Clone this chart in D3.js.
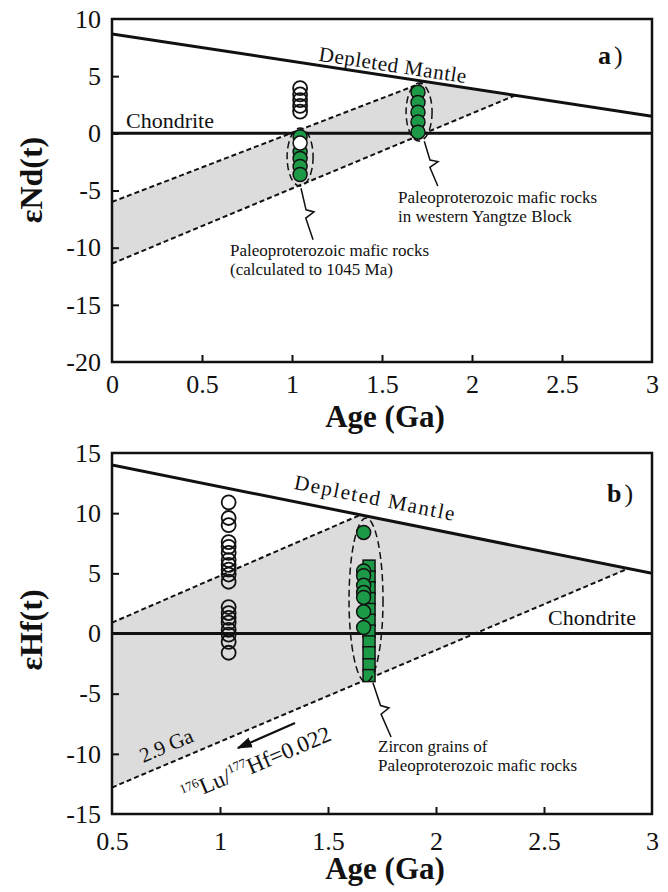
<!DOCTYPE html>
<html>
<head>
<meta charset="utf-8">
<script src="https://cdn.jsdelivr.net/npm/d3@7"></script>
<style>
    body { margin: 0; background: #fff; }
    svg text { font-family: "Liberation Serif", "Times New Roman", serif; fill: #111; }
</style>
</head>
<body>
<div id="chart"></div>
<script>
// ---- panel a: Nd ----
const ndTicksX = [0, 0.5, 1, 1.5, 2, 2.5, 3];
const ndTicksY = [10, 5, 0, -5, -10, -15, -20];
const ndDepletedMantle = [[0, 8.7], [3, 1.5]];
const ndBandUpper = [[0, -6.0], [1.74, 4.52]];
const ndBandLower = [[0, -11.4], [2.24, 3.32]];
const ndOpenAge = 1.045;
const ndOpen = [3.95, 3.4, 2.9, 2.4, 1.9];
const ndGreen1045 = [-0.3, -1.6, -2.2, -2.9, -3.6];
const ndWhite1045 = [-0.85];
const ndGreenAge = 1.7;
const ndGreen1700 = [3.6, 2.7, 1.85, 1.0, 0.1];

// ---- panel b: Hf ----
const hfTicksX = [0.5, 1, 1.5, 2, 2.5, 3];
const hfTicksY = [15, 10, 5, 0, -5, -10, -15];
const hfDepletedMantle = [[0.5, 14.0], [3, 5.0]];
const hfBandUpper = [[0.5, 0.9], [1.65, 9.86]];
const hfBandLower = [[0.5, -12.8], [2.89, 5.4]];
const hfOpenAge = 1.04;
const hfOpen = [10.9, 9.6, 9.0, 7.6, 7.2, 6.7, 6.1, 5.7, 5.3, 4.9, 4.3, 2.2, 1.7, 1.3, 0.9, 0.3, -0.1, -0.7, -1.6];
const hfCircleAge = 1.665;
const hfZirconCircles = [8.4, 5.2, 4.8, 4.0, 3.4, 3.0, 1.8, 0.5];
const hfSquareAge = 1.69;
const hfZirconSquares = [5.6, 4.7, 3.8, 2.9, 2.0, 1.1, 0.2, -0.7, -1.6, -2.6, -3.5];

const GREEN = "#1c9a48";
const GREY = "#dcdcdc";

const svg = d3.select("#chart").append("svg")
    .attr("width", 668)
    .attr("height", 892);

// lightning-style leader from an ellipse to its note
function squiggle(p0, p1) {
    const lerp = t => [p0[0] + (p1[0] - p0[0]) * t, p0[1] + (p1[1] - p0[1]) * t];
    const a = lerp(0.42), b = lerp(0.5), c = lerp(0.56);
    return d3.line()([p0, a, [b[0] + 7, b[1] - 2], [c[0] - 2, c[1] + 1], p1]);
}

function drawPanel(cfg) {
    const x = d3.scaleLinear().domain(cfg.xDomain).range([112, 652]);
    const y = d3.scaleLinear().domain(cfg.yDomain).range([cfg.bottom, cfg.top]);
    const g = svg.append("g");

    g.append("clipPath").attr("id", cfg.id + "-clip")
        .append("rect")
        .attr("x", 112).attr("y", cfg.top)
        .attr("width", 540).attr("height", cfg.bottom - cfg.top);
    const plot = g.append("g").attr("clip-path", "url(#" + cfg.id + "-clip)");

    // evolution band
    const band = [cfg.upper[0], cfg.upper[1], cfg.lower[1], cfg.lower[0]];
    plot.append("path")
        .attr("d", d3.line().x(d => x(d[0])).y(d => y(d[1]))(band) + "Z")
        .attr("fill", GREY);
    [cfg.upper, cfg.lower].forEach(l => {
        plot.append("line")
            .attr("x1", x(l[0][0])).attr("y1", y(l[0][1]))
            .attr("x2", x(l[1][0])).attr("y2", y(l[1][1]))
            .attr("stroke", "#111").attr("stroke-width", 2)
            .attr("stroke-dasharray", "5,3");
    });

    // chondrite + depleted mantle
    plot.append("line")
        .attr("x1", x(cfg.xDomain[0])).attr("x2", x(cfg.xDomain[1]))
        .attr("y1", y(0)).attr("y2", y(0))
        .attr("stroke", "#111").attr("stroke-width", 3);
    plot.append("line")
        .attr("x1", x(cfg.dm[0][0])).attr("y1", y(cfg.dm[0][1]))
        .attr("x2", x(cfg.dm[1][0])).attr("y2", y(cfg.dm[1][1]))
        .attr("stroke", "#111").attr("stroke-width", 3);

    // samples
    cfg.markers.forEach(m => {
        if (m.shape === "square") {
            plot.selectAll(null).data(m.values).enter().append("rect")
                .attr("x", x(m.age) - 6).attr("y", d => y(d) - 6)
                .attr("width", 12).attr("height", 12)
                .attr("fill", m.fill).attr("stroke", "#111").attr("stroke-width", 1.5);
        } else {
            plot.selectAll(null).data(m.values).enter().append("circle")
                .attr("cx", x(m.age)).attr("cy", d => y(d)).attr("r", 7)
                .attr("fill", m.fill).attr("stroke", "#111")
                .attr("stroke-width", m.fill === "none" ? 1.8 : 1.5);
        }
    });

    // dashed ellipses and leaders
    cfg.notes.forEach(n => {
        g.append("ellipse")
            .attr("cx", x(n.cx)).attr("cy", y(n.cy))
            .attr("rx", n.rx).attr("ry", n.ry)
            .attr("fill", "none").attr("stroke", "#111")
            .attr("stroke-width", 1.5).attr("stroke-dasharray", "7,4");
        g.append("path")
            .attr("d", squiggle([x(n.from[0]), y(n.from[1])], [x(n.to[0]), y(n.to[1])]))
            .attr("fill", "none").attr("stroke", "#111").attr("stroke-width", 1.5);
        const t = g.append("text").attr("font-size", 17);
        n.text.forEach((s, i) => {
            t.append("tspan").attr("x", n.tx).attr("y", n.ty + i * 18.5).text(s);
        });
    });

    // frame
    g.append("rect")
        .attr("x", 112).attr("y", cfg.top)
        .attr("width", 540).attr("height", cfg.bottom - cfg.top)
        .attr("fill", "none").attr("stroke", "#111").attr("stroke-width", 2.5);

    // axes (ticks pointing inward)
    const yAxis = d3.axisLeft(y).tickValues(cfg.yTicks).tickSize(-7).tickPadding(11)
        .tickFormat(d => String(d));
    const xAxis = d3.axisBottom(x).tickValues(cfg.xTicks).tickSize(-7).tickPadding(0)
        .tickFormat(d => String(d));
    const ya = g.append("g").attr("transform", "translate(112,0)").call(yAxis);
    const xa = g.append("g").attr("transform", "translate(0," + cfg.bottom + ")").call(xAxis);
    [ya, xa].forEach(a => {
        a.select(".domain").remove();
        a.selectAll(".tick line").attr("stroke", "#111").attr("stroke-width", 2);
        a.selectAll(".tick text").attr("font-size", 26).attr("fill", "#111")
            .attr("font-family", "Liberation Serif");
    });
    xa.selectAll(".tick text").attr("dy", null).attr("y", cfg.xLabelOffset);
    // end ticks sit on the frame corners
    ya.selectAll(".tick line").filter(d => d === cfg.yDomain[0] || d === cfg.yDomain[1]).remove();
    xa.selectAll(".tick line").filter(d => d === cfg.xDomain[0] || d === cfg.xDomain[1]).remove();

    // axis titles
    g.append("text")
        .attr("x", 385).attr("y", cfg.bottom + 65)
        .attr("text-anchor", "middle")
        .attr("font-size", 31).attr("font-weight", "bold")
        .text("Age (Ga)");
    g.append("text")
        .attr("transform", "translate(42," + cfg.yTitleY + ") rotate(-90)")
        .attr("text-anchor", "middle")
        .attr("font-size", 32).attr("font-weight", "bold")
        .text(cfg.yTitle);

    // line labels
    const dmMid = cfg.dmLabel;
    const ang = Math.atan2(y(cfg.dm[1][1]) - y(cfg.dm[0][1]), x(cfg.dm[1][0]) - x(cfg.dm[0][0])) * 180 / Math.PI;
    g.append("text")
        .attr("transform", "translate(" + dmMid[0] + "," + dmMid[1] + ") rotate(" + ang + ")")
        .attr("text-anchor", "middle")
        .attr("font-size", 21).attr("letter-spacing", cfg.dmSpacing)
        .text("Depleted Mantle");
    g.append("text")
        .attr("x", cfg.chondrite[0]).attr("y", cfg.chondrite[1])
        .attr("font-size", 22)
        .text("Chondrite");

    // panel letter
    const pl = g.append("text").attr("x", cfg.letterPos[0]).attr("y", cfg.letterPos[1]).attr("font-size", 26);
    pl.append("tspan").attr("font-weight", "bold").text(cfg.letter);
    pl.append("tspan").attr("dx", 3).text(")");

    return {x: x, y: y, g: g};
}

drawPanel({
    id: "nd", top: 19, bottom: 362,
    xDomain: [0, 3], yDomain: [-20, 10],
    xTicks: ndTicksX, yTicks: ndTicksY, xLabelOffset: 31,
    dm: ndDepletedMantle, upper: ndBandUpper, lower: ndBandLower,
    markers: [
        {age: ndOpenAge, values: ndOpen, fill: "none"},
        {age: ndOpenAge, values: ndGreen1045, fill: GREEN},
        {age: ndOpenAge, values: ndWhite1045, fill: "#fff"},
        {age: ndGreenAge, values: ndGreen1700, fill: GREEN}
    ],
    notes: [
        {cx: 1.045, cy: -2.07, rx: 13, ry: 29, from: [1.05, -4.8], to: [1.117, -9.3],
            tx: 230, ty: 256, text: ["Paleoproterozoic mafic rocks", "(calculated to 1045 Ma)"]},
        {cx: 1.706, cy: 1.86, rx: 13, ry: 29, from: [1.735, -0.7], to: [1.81, -4.6],
            tx: 398, ty: 203, text: ["Paleoproterozoic mafic rocks", "in western Yangtze Block"]}
    ],
    yTitle: "εNd(t)", yTitleY: 180,
    dmLabel: [392, 72], dmSpacing: 0.6,
    chondrite: [126, 128],
    letter: "a", letterPos: [598, 64]
});

const pb = drawPanel({
    id: "hf", top: 453, bottom: 814,
    xDomain: [0.5, 3], yDomain: [-15, 15],
    xTicks: hfTicksX, yTicks: hfTicksY, xLabelOffset: 36,
    dm: hfDepletedMantle, upper: hfBandUpper, lower: hfBandLower,
    markers: [
        {age: hfOpenAge, values: hfOpen, fill: "none"},
        {age: hfSquareAge, values: hfZirconSquares, fill: GREEN, shape: "square"},
        {age: hfCircleAge, values: hfZirconCircles, fill: GREEN}
    ],
    notes: [
        {cx: 1.676, cy: 2.78, rx: 17, ry: 82, from: [1.708, -4.1], to: [1.792, -8.6],
            tx: 378, ty: 752, text: ["Zircon grains of", "Paleoproterozoic mafic rocks"]}
    ],
    yTitle: "εHf(t)", yTitleY: 630,
    dmLabel: [374, 505], dmSpacing: 1.6,
    chondrite: [548, 625],
    letter: "b", letterPos: [607, 502]
});

// 2.9 Ga / Lu-Hf annotations along the lower growth line
const lowAng = Math.atan2(pb.y(hfBandLower[1][1]) - pb.y(hfBandLower[0][1]),
    pb.x(hfBandLower[1][0]) - pb.x(hfBandLower[0][0])) * 180 / Math.PI;
pb.g.append("text")
    .attr("transform", "translate(169,752) rotate(" + lowAng + ")")
    .attr("text-anchor", "middle").attr("font-size", 21)
    .text("2.9 Ga");
const lu = pb.g.append("text")
    .attr("transform", "translate(259,771) rotate(" + lowAng + ")")
    .attr("text-anchor", "middle").attr("font-size", 23);
lu.append("tspan").attr("font-size", 13).attr("dy", -9).text("176");
lu.append("tspan").attr("dy", 9).text("Lu/");
lu.append("tspan").attr("font-size", 13).attr("dy", -9).text("177");
lu.append("tspan").attr("dy", 9).text("Hf=0.022");

svg.append("defs").append("marker")
    .attr("id", "arrow").attr("viewBox", "0 0 10 10")
    .attr("refX", 9).attr("refY", 5)
    .attr("markerWidth", 7).attr("markerHeight", 7)
    .attr("orient", "auto")
    .append("path").attr("d", "M0,1.5 L10,5 L0,8.5 Z").attr("fill", "#111");
pb.g.append("line")
    .attr("x1", 295).attr("y1", 723).attr("x2", 238).attr("y2", 748)
    .attr("stroke", "#111").attr("stroke-width", 2.2)
    .attr("marker-end", "url(#arrow)");
</script>
</body>
</html>
